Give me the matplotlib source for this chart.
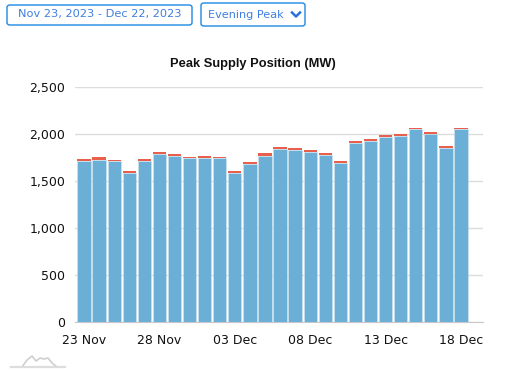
import matplotlib
matplotlib.use("Agg")
import matplotlib.pyplot as plt
from matplotlib.patches import FancyBboxPatch
import numpy as np

W, H = 508, 370

# values
days = ['23 Nov', '24 Nov', '25 Nov', '26 Nov', '27 Nov', '28 Nov', '29 Nov', '30 Nov',
        '01 Dec', '02 Dec', '03 Dec', '04 Dec', '05 Dec', '06 Dec', '07 Dec', '08 Dec',
        '09 Dec', '10 Dec', '11 Dec', '12 Dec', '13 Dec', '14 Dec', '15 Dec', '16 Dec',
        '17 Dec', '18 Dec']
supply = [1710, 1725, 1710, 1585, 1715, 1785, 1770, 1750, 1750, 1750, 1590, 1680, 1770,
          1840, 1825, 1810, 1775, 1690, 1900, 1930, 1965, 1975, 2050, 2000, 1850, 2050]
margin = [20, 30, 10, 25, 20, 20, 20, 10, 15, 10, 20, 25, 25,
          20, 30, 15, 20, 20, 25, 20, 20, 20, 15, 20, 25, 15]
yticks = [0, 500, 1000, 1500, 2000, 2500]


def px_box(x0, y0, x1, y1):
    # pixel box (from top left) to figure fractions
    return [x0 / W, 1 - y1 / H, (x1 - x0) / W, (y1 - y0) / H]


def button(fig, x0, y0, x1, y1):
    fig.patches.append(FancyBboxPatch((x0 / W, 1 - y1 / H), (x1 - x0) / W, (y1 - y0) / H,
                                      boxstyle="round,pad=0,rounding_size=0.006",
                                      transform=fig.transFigure, facecolor='white',
                                      edgecolor='#1e88e5', linewidth=1.0))


def main():
    fig = plt.figure(figsize=(W / 100, H / 100), dpi=100)
    ax = fig.add_axes(px_box(75, 87, 483, 322))

    x = np.arange(len(days))
    ax.bar(x, supply, width=0.88, color='#6baed6', edgecolor='#cfe3f0', linewidth=0.4, zorder=3)
    ax.bar(x, margin, bottom=supply, width=0.88, color='#e8604c', linewidth=0, zorder=3)

    # Axis setup
    ax.set_xlim(-0.6, 26.46)
    ax.set_ylim(0, 2500)
    ax.set_yticks(yticks)
    ax.set_yticklabels([f'{v:,}' for v in yticks])
    ax.set_xticks(x[::5])
    ax.set_xticklabels(days[::5])
    ax.grid(axis='y', color='#dcdcdc', linewidth=1.0, zorder=0)
    ax.set_axisbelow(True)
    for side in ['top', 'left', 'right']:
        ax.spines[side].set_visible(False)
    ax.spines['bottom'].set_color('#c8c8c8')
    ax.tick_params(axis='both', length=0, labelsize=9.0, labelcolor='#111111')
    ax.tick_params(axis='x', pad=9)
    ax.tick_params(axis='y', pad=7)

    fig.text(252.5 / W, 1 - 63.5 / H, 'Peak Supply Position (MW)', ha='center', va='center',
             family='Liberation Sans', fontweight='bold', fontsize=9.3, color='#111111')

    # Controls above the chart
    button(fig, 7, 5, 192, 25)
    button(fig, 201, 3, 305, 26)
    fig.text(99.5 / W, 1 - 14.5 / H, 'Nov 23, 2023 - Dec 22, 2023', ha='center', va='center',
             fontsize=8.2, color='#3f7fe0')
    fig.text(208 / W, 1 - 15 / H, 'Evening Peak', ha='left', va='center',
             fontsize=8.1, color='#3f7fe0')
    fig.add_artist(plt.Line2D([292 / W, 296 / W, 300 / W],
                              [1 - 12.5 / H, 1 - 16.5 / H, 1 - 12.5 / H],
                              color='#2a6fdb', linewidth=1.8))

    # Faint logo bottom left
    logo_x = [22, 27, 32, 36, 40, 44, 48, 52, 57]
    logo_y = [367, 360, 356, 361, 358, 359, 358, 363, 367]
    fig.add_artist(plt.Line2D([v / W for v in logo_x], [1 - v / H for v in logo_y],
                              color='#cfcfcf', linewidth=1.2))
    fig.add_artist(plt.Line2D([11 / W, 65 / W], [1 - 367 / H, 1 - 367 / H],
                              color='#dddddd', linewidth=1.6))

    fig.savefig('out.png', dpi=100)


if __name__ == "__main__":
    main()
